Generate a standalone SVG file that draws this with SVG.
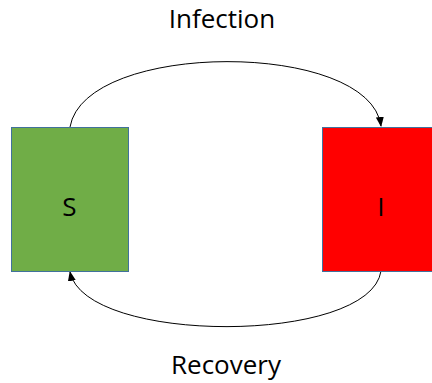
<svg xmlns="http://www.w3.org/2000/svg" width="432" height="383" viewBox="0 0 432 383">
<style>
.box{stroke:#41719C;stroke-width:1}
.lbl{font-family:"Open Sans","Liberation Sans",sans-serif;font-size:26px;fill:#000;text-anchor:middle}
.edge{fill:none;stroke:#000;stroke-width:1}
</style>
<defs>
<marker id="arr" markerUnits="userSpaceOnUse" markerWidth="10" markerHeight="8" refX="9" refY="4" orient="auto">
<path d="M0,0 L10,4 L0,8 Z" fill="#000"/>
</marker>
</defs>
<rect width="432" height="383" fill="#fff"/>
<g id="connectors">
<path class="edge" d="M70,127 C85,40 370,40 381,126" marker-end="url(#arr)"/>
<path class="edge" d="M381,271 C370,345 85,345 70,272" marker-end="url(#arr)"/>
<text class="lbl" x="222" y="28">Infection</text>
<text class="lbl" x="226" y="374">Recovery</text>
</g>
<g id="S">
<rect class="box" x="11.5" y="127.5" width="117" height="144" fill="#70AD47"/>
<text class="lbl" x="69.5" y="216">S</text>
</g>
<g id="I">
<rect class="box" x="322.5" y="127.5" width="117" height="144" fill="#FF0000"/>
<text class="lbl" x="381" y="216">I</text>
</g>
</svg>
